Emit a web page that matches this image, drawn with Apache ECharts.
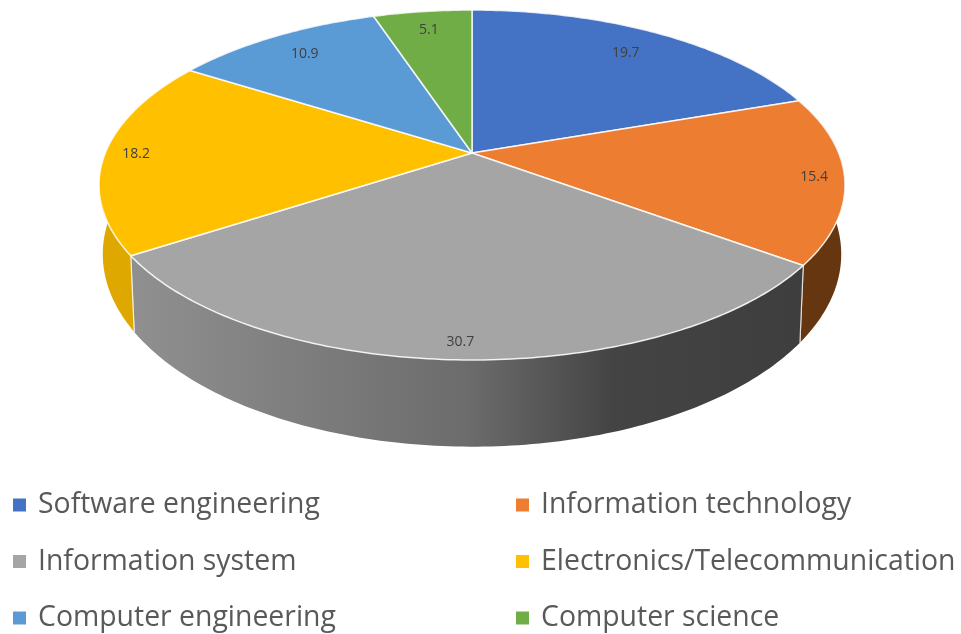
<!DOCTYPE html>
<html>
<head>
<meta charset="utf-8">
<style>
  html, body { margin: 0; background: #fff; }
  #chart { width: 961px; height: 634px; }
</style>
</head>
<body>
<div id="chart"></div>
<script src="https://cdn.jsdelivr.net/npm/echarts@6/dist/echarts.min.js"></script>
<script>
const categories = ['Software engineering', 'Information technology', 'Information system',
  'Electronics/Telecommunication', 'Computer engineering', 'Computer science']
const shares = [19.7, 15.4, 30.7, 18.2, 10.9, 5.1]

const colors = ['#4472c4', '#ed7d31', '#a5a5a5', '#ffc000', '#5b9bd5', '#70ad47']
const labelRadius = [0.81, 0.92, 0.93, 0.915, 0.83, 0.85]

// perspective disc: p is the foreshortening, the bottom rim uses its own a/b/y
const p = 0.183
const cx = 472
const topFace = { a: 366.7, b: 169.1, y: 153 }
const bottomFace = { a: 363, b: 186, y: 219 }
const total = shares.reduce((a, b) => a + b, 0)

function project(face, pct, r) {
  const t = pct / total * Math.PI * 2
  const u = Math.sin(t) * r
  const v = -Math.cos(t) * r
  const w = 1 - p * v
  return [cx + face.a * u / w, face.y + face.b * v / w]
}

function arc(face, from, to) {
  const pts = []
  const n = Math.max(2, Math.ceil((to - from) * 4))
  for (let i = 0; i <= n; i++) pts.push(project(face, from + (to - from) * i / n, 1))
  return pts
}

const wallFill = [
  '#2f5597',
  '#653610',
  {
    type: 'linear', x: 138, y: 0, x2: 797, y2: 0, global: true,
    colorStops: [
      { offset: 0, color: '#8f8f8f' },
      { offset: 0.5, color: '#6c6c6c' },
      { offset: 0.72, color: '#444444' },
      { offset: 1, color: '#3e3e3e' },
    ],
  },
  '#dfa800',
  '#3f7ab0',
  '#4f7d32',
]

function renderWall(params, api) {
  const i = params.dataIndex
  const from = api.value(0)
  const to = from + api.value(1)
  const points = arc(topFace, from, to).concat(arc(bottomFace, from, to).reverse())
  const edge = pct => ({
    type: 'line',
    shape: {
      x1: project(topFace, pct, 1)[0], y1: project(topFace, pct, 1)[1],
      x2: project(bottomFace, pct, 1)[0], y2: project(bottomFace, pct, 1)[1],
    },
    style: { stroke: 'rgba(255,255,255,0.7)', lineWidth: 1.2 },
  })
  return {
    type: 'group',
    children: [
      { type: 'polygon', shape: { points }, style: { fill: wallFill[i] } },
      edge(from),
      edge(to),
    ],
  }
}

function renderSlice(i) {
  return (params, api) => {
    const from = api.value(0)
    const to = from + api.value(1)
    const mid = (from + to) / 2
    const pos = project(topFace, mid, labelRadius[i])
    return {
      type: 'group',
      children: [
        {
          type: 'polygon',
          shape: { points: [[cx, topFace.y]].concat(arc(topFace, from, to)) },
          style: { fill: colors[i], stroke: 'rgba(255,255,255,0.85)', lineWidth: 1.5, lineJoin: 'round' },
        },
        {
          type: 'text',
          z2: 10,
          style: {
            text: String(api.value(1)),
            x: pos[0],
            y: pos[1],
            align: 'center',
            verticalAlign: 'middle',
            fill: '#404040',
            font: '14px "Open Sans", sans-serif',
          },
        },
      ],
    }
  }
}

let running = 0
const rows = shares.map(s => {
  const row = [running, s]
  running += s
  return row
})

const legendBase = {
  orient: 'vertical',
  icon: 'rect',
  padding: 0,
  itemWidth: 13,
  itemHeight: 13,
  itemGap: 28.5,
  top: 491,
  selectedMode: false,
  textStyle: { color: '#595959', fontSize: 28.4, fontFamily: 'Open Sans', padding: [0, 0, 0, 7] },
}

const chart = echarts.init(document.getElementById('chart'), null, { renderer: 'canvas' })
chart.setOption({
  animation: false,
  backgroundColor: '#fff',
  tooltip: { show: false },
  legend: [
    { ...legendBase, left: 13, data: [categories[0], categories[2], categories[4]] },
    { ...legendBase, left: 516, data: [categories[1], categories[3], categories[5]] },
  ],
  series: [
    {
      type: 'custom',
      name: 'walls',
      coordinateSystem: 'none',
      silent: true,
      z: 1,
      data: rows,
      renderItem: renderWall,
    },
    ...categories.map((name, i) => ({
      type: 'custom',
      name,
      coordinateSystem: 'none',
      silent: true,
      z: 2,
      itemStyle: { color: colors[i] },
      data: [rows[i]],
      renderItem: renderSlice(i),
    })),
  ],
})
window.addEventListener('resize', () => chart.resize())
</script>
</body>
</html>
